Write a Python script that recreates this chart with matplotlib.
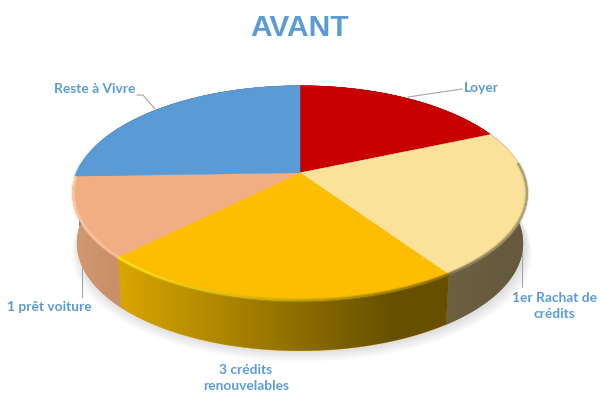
import numpy as np
import matplotlib
matplotlib.use("Agg")
import matplotlib.pyplot as plt
from matplotlib.colors import to_rgb, LinearSegmentedColormap
from matplotlib.patches import Polygon

plt.rcParams['font.family'] = ['Lato', 'DejaVu Sans']

labels = ["Loyer", "1er Rachat de\ncrédits", "3 crédits\nrenouvelables", "1 prêt voiture", "Reste à Vivre"]
values = [18.5, 22, 22, 12, 25.5]
top_colors = ["#C80000", "#FAE29A", "#FDBD00", "#F1AE82", "#5B9BD5"]
wall_left = ["#7A0000", "#6B6040", "#D9A600", "#D09A72", "#3A6A99"]
wall_right = ["#7A0000", "#665A3E", "#665000", "#C98F68", "#3A6A99"]
rim_left = ["#C80000", "#7A6E4C", "#FFE51E", "#FFCFAE", "#5B9BD5"]
rim_right = ["#C80000", "#A89A6C", "#8A6C00", "#FBBE98", "#5B9BD5"]
text_color = "#5B9BD5"
line_color = "#A6A6A6"

PERSP = 0.19
R = 223.4
CX, CY = 300, 172
DEPTH = 50


def project(theta, r=1.0):
    # theta clockwise from the back of the disc
    u = r * np.sin(theta)
    v = -r * np.cos(theta)
    d = 1 - PERSP * v
    return CX + R * u / d, (71 * v + CY) / d + 0.8


def project_low(theta):
    x, y = project(theta)
    return CX + (x - CX) * 0.98, y + DEPTH


def mix(c1, c2, t):
    a, b = np.array(to_rgb(c1)), np.array(to_rgb(c2))
    return tuple(a + (b - a) * t)


fig = plt.figure(figsize=(6, 4), dpi=100)
ax = fig.add_axes([0, 0, 1, 1])

edges = np.cumsum([0] + values) / sum(values) * 2 * np.pi

# soft shadow under the pie
t = np.linspace(0, 2 * np.pi, 200)
for grow in np.linspace(10, 0, 11):
    x, y = project_low(t)
    ax.fill(CX + (x - CX) * (1 + grow / 300) + 2, y + grow + 1, color="black", alpha=0.012, lw=0, zorder=1)

# side wall of each slice, gradient clipped to the wall shape
for i in range(len(values)):
    a = np.linspace(edges[i], edges[i + 1], 120)
    xt, yt = project(a)
    xb, yb = project_low(a)
    px = np.r_[xt, xb[::-1]]
    py = np.r_[yt, yb[::-1]]
    wall = Polygon(np.c_[px, py], closed=True, fc=wall_left[i], ec=wall_left[i], lw=0.3,
                   zorder=2 + i * 0.01, transform=ax.transData)
    ax.add_patch(wall)
    cmap = LinearSegmentedColormap.from_list("w%d" % i, [(0, wall_left[i]), (0.83, wall_right[i]), (1, wall_right[i])])
    im = ax.imshow(np.linspace(0, 1, 256).reshape(1, -1), cmap=cmap, aspect="auto",
                   extent=(px.min(), px.max(), py.max(), py.min()), zorder=2.5 + i * 0.01)
    im.set_clip_path(wall)

# top of the slices
for i in range(len(values)):
    a = np.linspace(edges[i], edges[i + 1], 120)
    x, y = project(a)
    ax.fill(np.r_[CX, x], np.r_[CY + 0.8, y], color=top_colors[i], lw=0.3, ec=top_colors[i], zorder=6)

# bevel along the rim, left to right across the screen
for i in range(len(values)):
    a = np.linspace(edges[i], edges[i + 1], 120)
    a = a[np.cos(a) < 0.1]
    if len(a) < 2:
        continue
    xs = project(a, 0.997)[0]
    for j in range(len(a) - 1):
        x, y = project(a[j:j + 2], 0.997)
        f = (x[0] - xs.min()) / (xs.max() - xs.min())
        col = mix(rim_left[i], rim_right[i], f)
        ax.plot(x, y, color=col, lw=3.0, alpha=0.35, solid_capstyle="butt", zorder=7)
        ax.plot(x, y, color=col, lw=1.3, solid_capstyle="butt", zorder=7.1)

# leader lines
ax.plot([408, 462], [97, 89], color=line_color, lw=0.8, zorder=5)
ax.plot([522, 522], [253, 287], color=line_color, lw=0.8, zorder=5)
ax.plot([82, 82], [267, 297], color=line_color, lw=0.8, zorder=5)
ax.plot([137, 143, 155], [95, 95, 109], color=line_color, lw=0.8, zorder=5)

ax.text(300, 28, "AVANT", color=text_color, fontsize=21.5, fontweight="bold", ha="center", va="center",
        family=["Liberation Sans", "DejaVu Sans"])
label_pos = [(481, 88), (554, 305.5), (246, 378), (49, 307), (95, 89)]
for lab, (lx, ly) in zip(labels, label_pos):
    ax.text(lx, ly, lab, color=text_color, fontsize=9.9, fontweight="bold", ha="center", va="center",
            linespacing=1.4)

ax.set_xlim(0, 600)
ax.set_ylim(400, 0)
ax.axis("off")

fig.savefig("out.png", dpi=100)
